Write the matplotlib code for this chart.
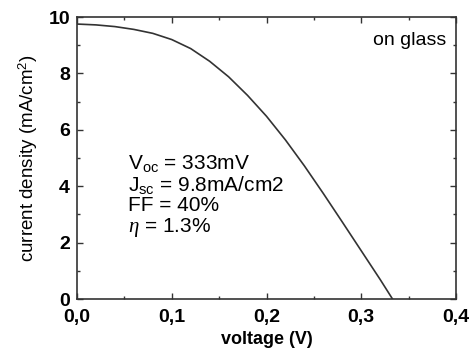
import matplotlib
matplotlib.use("Agg")
import matplotlib.pyplot as plt
from matplotlib.ticker import MultipleLocator

plt.rcParams['font.family'] = ['Liberation Sans', 'DejaVu Sans']
plt.rcParams['mathtext.fontset'] = 'custom'
plt.rcParams['mathtext.rm'] = 'Liberation Sans'
plt.rcParams['mathtext.it'] = 'Liberation Serif:italic'

# J-V curve
voltage = [0.0, 0.02, 0.04, 0.06, 0.08, 0.10, 0.12, 0.14, 0.16, 0.18,
           0.20, 0.22, 0.24, 0.26, 0.28, 0.30, 0.32, 0.333]
current = [9.75, 9.72, 9.66, 9.56, 9.42, 9.20, 8.88, 8.43, 7.88, 7.22,
           6.48, 5.64, 4.72, 3.74, 2.73, 1.71, 0.69, 0.0]

params = ["V$_{\\mathrm{oc}}$ = 333mV",
          "J$_{\\mathrm{sc}}$ = 9.8mA/cm2",
          "FF = 40%",
          "$\\eta$ = 1.3%"]

fig = plt.figure(figsize=(4.74, 3.54), dpi=100)
ax = fig.add_axes([77/474, 1 - 299/354, (456-77)/474, (299-17)/354])

ax.plot(voltage, current, color='#333333', linewidth=1.2)

ax.set_xlim(0, 0.4)
ax.set_ylim(0, 10)
ax.xaxis.set_major_locator(MultipleLocator(0.1))
ax.xaxis.set_minor_locator(MultipleLocator(0.05))
ax.yaxis.set_major_locator(MultipleLocator(2))
ax.yaxis.set_minor_locator(MultipleLocator(1))
ax.xaxis.set_major_formatter(plt.FuncFormatter(lambda v, p: f"{v:.1f}".replace('.', ',')))

ax.tick_params(which='both', direction='in', top=True, right=True, color='#333333')
ax.tick_params(which='major', length=4, width=1, labelsize=14)
ax.tick_params(axis='x', which='major', pad=7)
ax.tick_params(axis='y', which='major', pad=5)
ax.tick_params(which='minor', length=2, width=1)
for lab in ax.get_xticklabels() + ax.get_yticklabels():
    lab.set_fontweight('bold')
for s in ax.spines.values():
    s.set_linewidth(1.2)
    s.set_color('#333333')

ax.set_xlabel('voltage (V)', fontsize=13, fontweight='bold', va='center')
ax.set_ylabel('current density (mA/cm$^2$)', fontsize=13.5, va='center')
ax.xaxis.set_label_coords(0.5, -0.145)
ax.yaxis.set_label_coords(-0.129, 0.5)

ax.text(0.974, 0.918, 'on glass', transform=ax.transAxes, ha='right', va='center', fontsize=14)

for i, t in enumerate(params):
    ax.text(0.135, 0.482 - i * 0.076, t, transform=ax.transAxes, ha='left', va='center', fontsize=15)

fig.savefig('out.png', dpi=100)
